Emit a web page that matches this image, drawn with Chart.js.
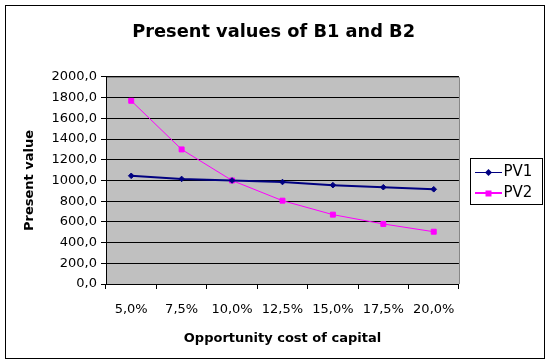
<!DOCTYPE html>
<html>
<head>
<title>Present values of B1 and B2</title>
<script src="https://cdn.jsdelivr.net/npm/chart.js"></script>
<style>
  body { margin: 0; background: #fff; }
</style>
</head>
<body>
<canvas id="pvChart" width="551" height="363"></canvas>
<script>
// opportunity cost of capital (categories)
const rates = ['5,0%', '7,5%', '10,0%', '12,5%', '15,0%', '17,5%', '20,0%'];
// present values
const pv1 = [1045, 1015, 1000, 985, 955, 935, 915];
const pv2 = [1770, 1300, 1000, 805, 670, 580, 505];
const yMin = 0;
const yMax = 2000;
const yStep = 200;

const navy = '#000080';
const magenta = '#ff00ff';
const font = 'DejaVu Sans';

// little line+marker icons for the legend, like Excel draws them
function legendIcon(color, shape, lw) {
    const c = document.createElement('canvas');
    c.width = 43;
    c.height = 12;
    const g = c.getContext('2d');
    g.strokeStyle = color;
    g.lineWidth = lw;
    const ly = lw % 2 ? 6.5 : 6;
    g.beginPath();
    g.moveTo(16, ly);
    g.lineTo(43, ly);
    g.stroke();
    g.fillStyle = color;
    g.beginPath();
    if (shape === 'diamond') {
        g.moveTo(29.5, 3); g.lineTo(33, 6.5); g.lineTo(29.5, 10); g.lineTo(26, 6.5);
        g.closePath();
    } else {
        g.rect(26.5, 3.5, 6, 6);
    }
    g.fill();
    return c;
}
const legendIcons = [legendIcon(navy, 'diamond', 1), legendIcon(magenta, 'square', 2)];

const framePlugin = {
    id: 'frame',
    beforeDraw(chart) {
        const {ctx, chartArea: a} = chart;
        ctx.save();
        ctx.fillStyle = '#c0c0c0';
        ctx.fillRect(a.left, a.top, a.right - a.left, a.bottom - a.top);
        ctx.strokeStyle = '#000';
        ctx.lineWidth = 1;
        ctx.strokeRect(5.5, 5.5, 539, 353);
        ctx.restore();
    },
    beforeDatasetsDraw(chart) {
        const {ctx, chartArea: a} = chart;
        ctx.save();
        ctx.strokeStyle = '#808080';
        ctx.lineWidth = 1;
        ctx.beginPath();
        ctx.moveTo(a.left + 1, a.top + 0.5);
        ctx.lineTo(a.right + 0.5, a.top + 0.5);
        ctx.lineTo(a.right + 0.5, a.bottom);
        ctx.stroke();
        ctx.restore();
    },
    afterDraw(chart) {
        const {ctx, legend} = chart;
        const mid = (legend.top + legend.bottom) / 2;
        ctx.save();
        ctx.strokeStyle = '#000';
        ctx.lineWidth = 1;
        ctx.strokeRect(Math.round(legend.left + 11) + 0.5, Math.round(mid - 24.5) + 0.5, 72, 46);
        ctx.restore();
    }
};

const ctx = document.getElementById('pvChart').getContext('2d');
const pvChart = new Chart(ctx, {
    type: 'line',
    data: {
        labels: rates,
        datasets: [{
            label: 'PV1',
            data: pv1,
            borderColor: navy,
            backgroundColor: navy,
            borderWidth: 2,
            pointStyle: 'rectRot',
            pointRadius: 2.8,
            pointBorderWidth: 1,
            tension: 0,
            fill: false
        }, {
            label: 'PV2',
            data: pv2,
            borderColor: magenta,
            backgroundColor: magenta,
            borderWidth: 1,
            pointStyle: 'rect',
            pointRadius: 3.5,
            pointBorderWidth: 1,
            tension: 0,
            fill: false
        }]
    },
    options: {
        responsive: false,
        animation: false,
        events: [],
        layout: {
            padding: {left: 5, right: 8.7, top: 4, bottom: 2}
        },
        plugins: {
            title: {
                display: true,
                text: 'Present values of B1 and B2',
                color: '#000',
                font: {family: font, size: 17.8, weight: 'bold'},
                padding: {top: 17.5, bottom: 34.1}
            },
            legend: {
                position: 'right',
                labels: {
                    color: '#000',
                    font: {family: font, size: 15},
                    usePointStyle: true,
                    pointStyleWidth: 31,
                    padding: 6,
                    generateLabels(chart) {
                        return Chart.defaults.plugins.legend.labels.generateLabels(chart)
                            .map((item, i) => Object.assign(item, {pointStyle: legendIcons[i]}));
                    }
                }
            },
            tooltip: {enabled: false}
        },
        scales: {
            x: {
                offset: true,
                grid: {
                    offset: true,
                    drawOnChartArea: false,
                    color: '#000',
                    tickLength: 5,
                    tickColor: '#000'
                },
                border: {color: '#000'},
                ticks: {
                    color: '#000',
                    font: {family: font, size: 13},
                    padding: 13,
                    maxRotation: 0,
                    autoSkip: false
                },
                title: {
                    display: true,
                    text: 'Opportunity cost of capital',
                    color: '#000',
                    font: {family: font, size: 13, weight: 'bold'},
                    padding: {top: 4, bottom: 15}
                },
                afterFit(scale) { scale.height = 77; }
            },
            y: {
                min: yMin,
                max: yMax,
                grid: {
                    color: '#000',
                    tickLength: 5,
                    tickColor: '#000'
                },
                border: {color: '#000'},
                ticks: {
                    stepSize: yStep,
                    color: '#000',
                    font: {family: font, size: 13},
                    padding: 4,
                    callback: v => v.toFixed(1).replace('.', ',')
                },
                title: {
                    display: true,
                    text: 'Present value',
                    color: '#000',
                    font: {family: font, size: 13, weight: 'bold'},
                    padding: {top: 17, bottom: 4}
                },
                afterFit(scale) { scale.width = 101; }
            }
        }
    },
    plugins: [framePlugin]
});
</script>
</body>
</html>
